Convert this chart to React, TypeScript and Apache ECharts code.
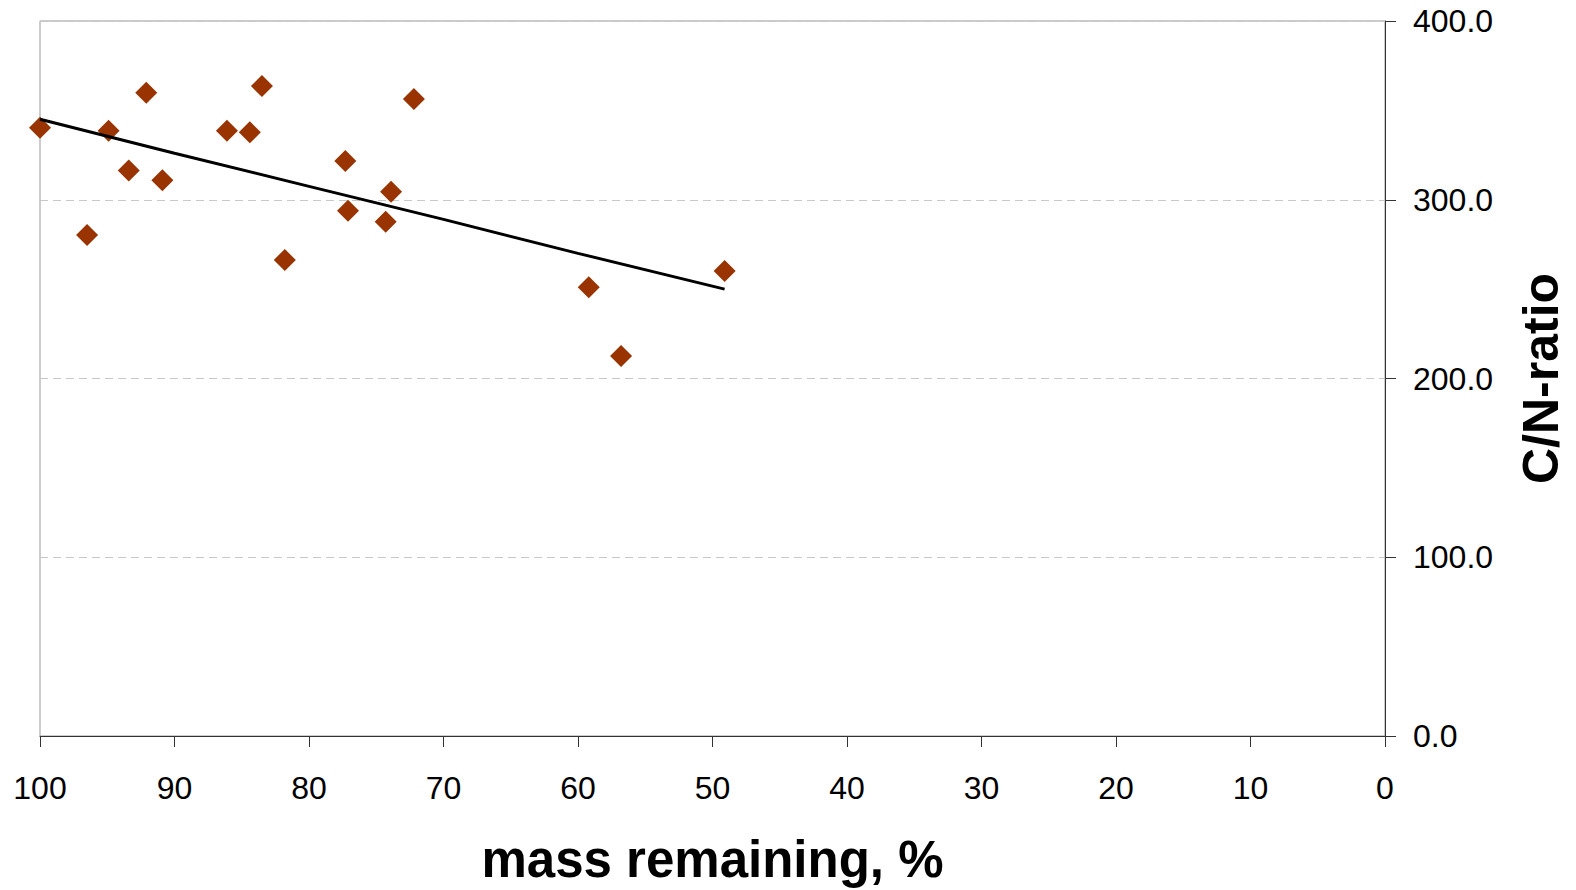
import React, { useEffect, useRef } from "react";
import * as echarts from "echarts";

const massRemaining = [100, 96.5, 94.9, 93.4, 92.1, 90.9, 86.1, 84.4, 83.5, 81.8, 77.3, 77.1, 74.3, 73.9, 72.2, 59.2, 56.8, 49.1];
const cnRatio = [340.3, 280.3, 338.6, 316.3, 359.9, 310.9, 338.6, 337.7, 363.6, 266.3, 321.7, 293.9, 287.7, 304.5, 356.4, 251.0, 212.6, 260.1];
const trendX = [100, 90, 80, 70, 60, 49.1];
const trendY = [345, 326, 307.5, 289, 270, 250];

const xTitle = "mass remaining, %";
const yTitle = "C/N-ratio";

export default function App() {
  const ref = useRef<HTMLDivElement>(null);
  useEffect(() => {
    if (!ref.current) return;
    const chart = echarts.init(ref.current, null, { renderer: "svg" });
    const font = "'Liberation Sans', Arial, sans-serif";
    chart.setOption({
      animation: false,
      backgroundColor: "#ffffff",
      grid: {
        left: 40,
        right: 191,
        top: 21,
        bottom: 154,
        containLabel: false,
        outerBoundsMode: "none",
        show: true,
        borderColor: "#999999",
        borderWidth: 1,
      },
      xAxis: {
        type: "value",
        inverse: true,
        min: 0,
        max: 100,
        interval: 10,
        position: "bottom",
        axisLine: { show: true, onZero: false, lineStyle: { color: "#333333", width: 1 } },
        axisTick: { show: true, length: 11, inside: false, lineStyle: { color: "#333333" } },
        axisLabel: { fontSize: 32, color: "#000000", fontFamily: font, margin: 36 },
        splitLine: { show: false },
        name: xTitle,
        nameLocation: "middle",
        nameGap: 98,
        nameTextStyle: { fontSize: 51, fontWeight: "bold", color: "#000000", fontFamily: font },
      },
      yAxis: {
        type: "value",
        position: "right",
        min: 0,
        max: 400,
        interval: 100,
        axisLine: { show: true, onZero: false, lineStyle: { color: "#333333", width: 1 } },
        axisTick: { show: true, length: 11, inside: false, lineStyle: { color: "#333333" } },
        axisLabel: {
          fontSize: 32,
          color: "#000000",
          fontFamily: font,
          margin: 28,
          formatter: (v: number) => v.toFixed(1),
        },
        splitLine: { show: true, lineStyle: { color: "#c8c8c8", type: [8, 5], width: 1 } },
        name: yTitle,
        nameLocation: "middle",
        nameGap: 131,
        nameRotate: 90,
        nameTextStyle: { fontSize: 50, fontWeight: "bold", color: "#000000", fontFamily: font },
      },
      series: [
        {
          type: "scatter",
          data: massRemaining.map((m, i) => [m, cnRatio[i]]),
          symbol: "diamond",
          symbolSize: [22, 22],
          itemStyle: { color: "#993300", opacity: 1 },
        },
        {
          type: "line",
          data: trendX.map((m, i) => [m, trendY[i]]),
          showSymbol: false,
          symbol: "none",
          lineStyle: { color: "#000000", width: 3 },
          z: 3,
        },
      ],
    });
    return () => chart.dispose();
  }, []);
  return (
    <div
      ref={ref}
      style={{ position: "absolute", left: 0, top: 0, width: 1576, height: 890 }}
    />
  );
}
